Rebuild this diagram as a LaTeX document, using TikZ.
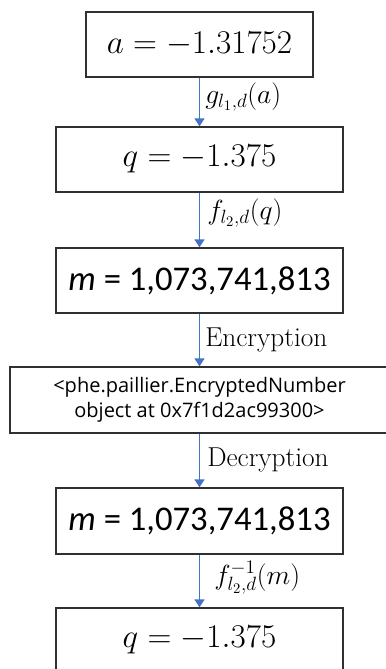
\documentclass[tikz,border=0pt]{standalone}
\usepackage{fontspec}
\usetikzlibrary{arrows.meta}
\newfontfamily\boxsans{Carlito}
\newfontfamily\encsans{Open Sans}
\definecolor{arrowblue}{HTML}{4472C4}
\definecolor{boxgray}{HTML}{303030}
\begin{document}
\begin{tikzpicture}[x=0.75pt,y=-0.75pt,
  box/.style={draw=boxgray,line width=1pt,fill=white,inner sep=0pt,
    minimum height={65*0.75pt}},
  narrowbox/.style={box,minimum width={287*0.75pt}},
  flow/.style={draw=arrowblue,line width=1.2pt,-{Triangle[width=7.5pt,length=6pt]}},
  lbl/.style={anchor=west,inner sep=0pt,font=\fontsize{20.5}{24}\selectfont},
  mlbl/.style={anchor=west,inner sep=0pt,font=\fontsize{21.5}{24}\selectfont},
  mathtxt/.style={font=\fontsize{26.5}{30}\selectfont},
  sanstxt/.style={font=\boxsans\fontsize{26}{30}\selectfont}]
\useasboundingbox (0,0) rectangle (386,669);
\begin{scope}
\clip (0,0) rectangle (386,669);
\node[box,minimum width={227*0.75pt},mathtxt] (a) at (199.5,44.5) {$a = -1.31752$};
\node[narrowbox,mathtxt] (q1) at (199.5,159.5) {$q = -1.375$};
\node[narrowbox,sanstxt] (m1) at (199.5,280.5) {\textit{m} = 1,073,741,813};
\node[box,minimum width={379*0.75pt},minimum height={66*0.75pt},
  font=\encsans\fontsize{15}{18.75}\selectfont,align=center] (enc) at (199.5,400)
  {<phe.paillier.EncryptedNumber\\object at 0x7f1d2ac99300>};
\node[narrowbox,sanstxt,minimum height={66*0.75pt}] (m2) at (199.5,521) {\textit{m} = 1,073,741,813};
\node[narrowbox,mathtxt] (q2) at (199.5,640.5) {$q = -1.375$};
\end{scope}
\draw[flow] (a) -- (q1);
\draw[flow] (q1) -- (m1);
\draw[flow] (m1) -- (enc);
\draw[flow] (enc) -- (m2);
\draw[flow] (m2) -- (q2);
\node[mlbl] (l1) at (205,97) {$g_{l_1,d}(a)$};
\node[mlbl] (l2) at (207,213) {$f_{l_2,d}(q)$};
\node[lbl] (l3) at (205,340) {Encryption};
\node[lbl] (l4) at (207,460) {Decryption};
\node[mlbl] (l5) at (214,578) {$f^{-1}_{l_2,d}(m)$};
\end{tikzpicture}
\end{document}
